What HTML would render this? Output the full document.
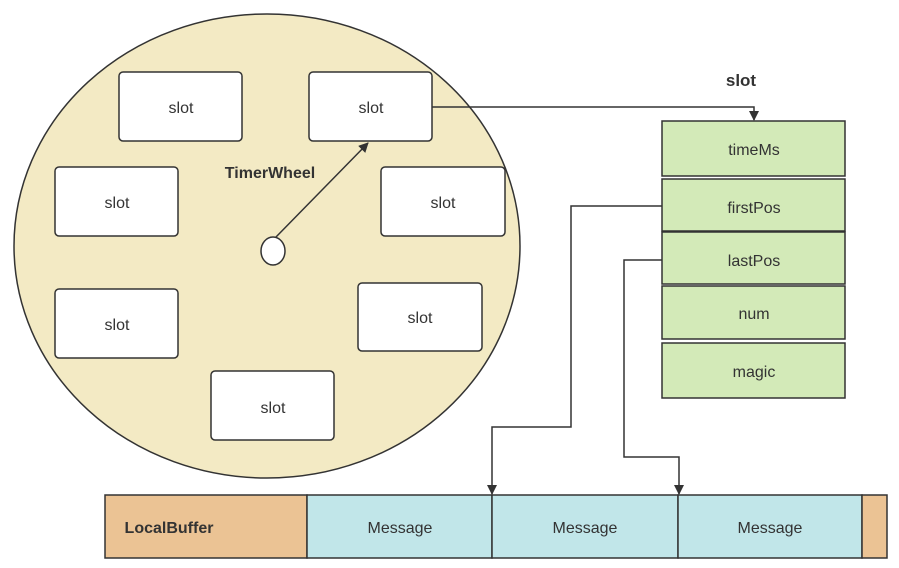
<!DOCTYPE html>
<html><head><meta charset="utf-8"><style>
html,body{margin:0;padding:0;background:#fff;}
svg{display:block;font-family:"Liberation Sans","Noto Sans CJK SC",sans-serif;}
</style></head><body>
<svg width="899" height="568" viewBox="0 0 899 568" xmlns="http://www.w3.org/2000/svg">
<defs><marker id="a" markerWidth="10" markerHeight="10" refX="9" refY="5" orient="auto" markerUnits="userSpaceOnUse"><path d="M0,0 L10,5 L0,10 z" fill="#333"/></marker></defs>
<ellipse cx="267" cy="246" rx="253" ry="232" fill="#f3eac4" stroke="#333" stroke-width="1.5"/>
<g fill="#fff" stroke="#333" stroke-width="1.5">
<rect x="119" y="72" width="123" height="69" rx="4"/>
<rect x="309" y="72" width="123" height="69" rx="4"/>
<rect x="55" y="167" width="123" height="69" rx="4"/>
<rect x="381" y="167" width="124" height="69" rx="4"/>
<rect x="55" y="289" width="123" height="69" rx="4"/>
<rect x="358" y="283" width="124" height="68" rx="4"/>
<rect x="211" y="371" width="123" height="69" rx="4"/>
<ellipse cx="273" cy="251" rx="12" ry="14"/>
</g>
<g font-size="16" fill="#333" text-anchor="middle">
<text x="181" y="113">slot</text>
<text x="371" y="113">slot</text>
<text x="117" y="208">slot</text>
<text x="443" y="208">slot</text>
<text x="117" y="330">slot</text>
<text x="420" y="323">slot</text>
<text x="273" y="413">slot</text>
</g>
<text x="270" y="178" font-size="16" font-weight="bold" fill="#333" text-anchor="middle">TimerWheel</text>
<line x1="276" y1="237" x2="368" y2="143" stroke="#333" stroke-width="1.5" marker-end="url(#a)"/>
<polyline points="432,107 754,107 754,120" fill="none" stroke="#333" stroke-width="1.5" marker-end="url(#a)"/>
<text x="741" y="86" font-size="17" font-weight="bold" fill="#333" text-anchor="middle">slot</text>
<g fill="#d3eab8" stroke="#333" stroke-width="1.5">
<rect x="662" y="121" width="183" height="55"/>
<rect x="662" y="179" width="183" height="52"/>
<rect x="662" y="232" width="183" height="52"/>
<rect x="662" y="286" width="183" height="53"/>
<rect x="662" y="343" width="183" height="55"/>
</g>
<g font-size="16" fill="#333" text-anchor="middle">
<text x="754" y="155">timeMs</text>
<text x="754" y="213">firstPos</text>
<text x="754" y="266">lastPos</text>
<text x="754" y="319">num</text>
<text x="754" y="377">magic</text>
</g>
<polyline points="662,206 571,206 571,427 492,427 492,494" fill="none" stroke="#333" stroke-width="1.5" marker-end="url(#a)"/>
<polyline points="662,260 624,260 624,457 679,457 679,494" fill="none" stroke="#333" stroke-width="1.5" marker-end="url(#a)"/>
<g stroke="#333" stroke-width="1.5">
<rect x="105" y="495" width="202" height="63" fill="#ebc394"/>
<rect x="307" y="495" width="185" height="63" fill="#c1e6e9"/>
<rect x="492" y="495" width="186" height="63" fill="#c1e6e9"/>
<rect x="678" y="495" width="184" height="63" fill="#c1e6e9"/>
<rect x="862" y="495" width="25" height="63" fill="#ebc394"/>
</g>
<text x="169" y="533" font-size="16" font-weight="bold" fill="#333" text-anchor="middle">LocalBuffer</text>
<g font-size="16" fill="#333" text-anchor="middle">
<text x="400" y="533">Message</text>
<text x="585" y="533">Message</text>
<text x="770" y="533">Message</text>
</g>
</svg>
</body></html>
